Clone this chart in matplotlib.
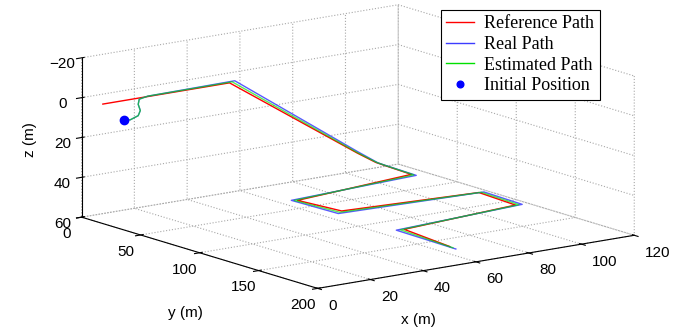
import numpy as np
import matplotlib
matplotlib.use('Agg')
import matplotlib.pyplot as plt

plt.rcParams.update({
    'font.family': 'Liberation Sans',
    'font.size': 11,
    'grid.color': '#a8a8a8',
    'grid.linestyle': ':',
    'grid.linewidth': 0.8,
    'axes.linewidth': 0.8,
})

# reference path waypoints (m)
ref_x = [0, 48, 98, 103, 102.7, 102, 53.3, 55.5, 103.8, 102.6, 55.9, 53.1]
ref_y = [18, 18, 14.5, 19, 27, 51.3, 63.8, 96.3, 104.5, 138.2, 148.4, 193.3]
ref_z = [0, 0, 47, 52, 52, 52, 52, 52, 52, 52, 52, 52]

# real path (vehicle), starts off the reference
real_x = [8, 10.4, 13.4, 14.2, 13.4, 13.8, 17, 50, 98.5, 104, 103.4, 102.4, 51.8, 52.6, 105.5, 104.8, 53.3, 52.6]
real_y = [18, 18, 18, 18, 18, 18, 18, 18, 14.0, 18.5, 27, 54.6, 61.9, 99.9, 105, 139, 147.5, 199.5]
real_z = [10, 10.2, 8.8, 6.4, 3.1, 0.6, -0.2, -0.6, 46.6, 52.5, 52.3, 52, 52, 52, 52, 52, 52, 52]

# estimated path
est_x = [8, 10.4, 13.4, 14.2, 13.4, 13.8, 17, 49, 98.3, 103.5, 103, 102.2, 52.5, 54, 104.6, 103.7, 54.6, 52.9]
est_y = [18, 18, 18, 18, 18, 18, 18, 18, 14.3, 18.8, 27, 53, 62.9, 98.1, 104.8, 138.6, 148, 196.4]
est_z = [10, 10.2, 8.8, 6.4, 3.1, 0.6, -0.2, -0.3, 47, 52.2, 52.1, 52, 52, 52, 52, 52, 52, 52]

init_pos = (8, 18, 10)

x_ticks = [0, 20, 40, 60, 80, 100, 120]
y_ticks = [0, 50, 100, 150, 200]
z_ticks = [-20, 0, 20, 40, 60]

fig = plt.figure(figsize=(6.91, 3.28), dpi=100)
ax = fig.add_axes([8 / 691, 13 / 328, 1.0, 1.0], projection='3d')
ax.set_proj_type('ortho')
ax.view_init(elev=-13.0, azim=126.7, roll=180)
ax.set_box_aspect((1, 1, 0.414), zoom=1.7224)

l_ref, = ax.plot(ref_x, ref_y, ref_z, color='#ff0000', lw=1.0, clip_on=False)
l_real, = ax.plot(real_x, real_y, real_z, color='#3c3cff', lw=1.0, alpha=0.85, clip_on=False)
l_est, = ax.plot(est_x, est_y, est_z, color='#00e000', lw=1.0, alpha=0.65, clip_on=False)
l_init, = ax.plot([init_pos[0]], [init_pos[1]], [init_pos[2]], 'o', color='#0000ff', ms=6,
                  clip_on=False)

ax.set_xlim(0, 120)
ax.set_ylim(0, 200)
ax.set_zlim(-20, 60)
ax.set_xticks(x_ticks)
ax.set_yticks(y_ticks)
ax.set_zticks(z_ticks)

ax.xaxis.set_tick_params(pad=-2.4)
ax.yaxis.set_tick_params(pad=-2.3)
ax.zaxis.set_tick_params(pad=-3.7)
for lbl in ax.xaxis.get_ticklabels():
    lbl.set_ha('left')

for axis in (ax.xaxis, ax.yaxis, ax.zaxis):
    axis.set_pane_color((1, 1, 1, 0))
    axis.pane.set_edgecolor('none')
    axis.line.set_color('black')

fig.text(418 / 691, 1 - 320 / 328, 'x (m)', ha='center', va='center', fontsize=11)
fig.text(185 / 691, 1 - 313 / 328, 'y (m)', ha='center', va='center', fontsize=11)
fig.text(30 / 691, 1 - 140 / 328, 'z (m)', ha='center', va='center', fontsize=11, rotation=90)

leg = ax.legend([l_ref, l_real, l_est, l_init],
                ['Reference Path', 'Real Path', 'Estimated Path', 'Initial Position'],
                loc='upper left', bbox_to_anchor=(441 / 691, 1 - 10 / 328),
                bbox_transform=fig.transFigure, borderaxespad=0, fancybox=False,
                framealpha=1, edgecolor='black', borderpad=0.3, labelspacing=0.2,
                handlelength=1.5, handletextpad=0.6, markerscale=0.8,
                prop={'family': 'Liberation Serif', 'size': 13})
leg.get_frame().set_linewidth(0.8)
for h in leg.legend_handles:
    h.set_alpha(1)

fig.savefig('out.png', dpi=100)
